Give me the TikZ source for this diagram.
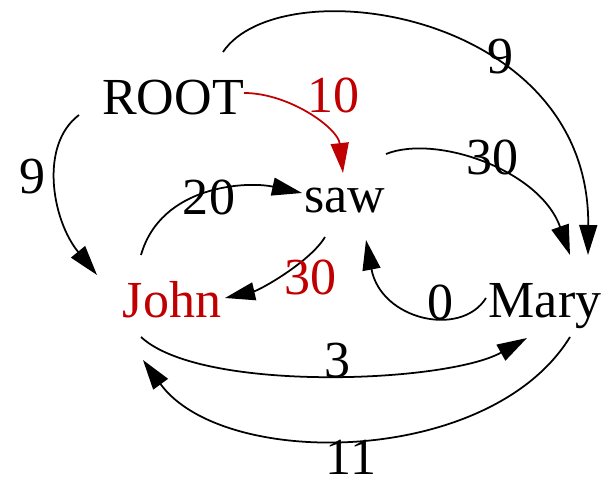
\documentclass[tikz,border=0pt]{standalone}
\usepackage{fontspec}
\setmainfont{Liberation Serif}
\usetikzlibrary{arrows.meta}
\definecolor{gvred}{RGB}{192,0,0}
\begin{document}
\begin{tikzpicture}[x=.02cm,y=.02cm,line width=1pt,font=\fontsize{29.6}{35}\selectfont,
  word/.style={inner sep=0,anchor=base},wt/.style={inner sep=0},
  edge/.style={-{Triangle[length=.6cm,width=.36cm]}}]
\useasboundingbox (0,0) rectangle (608,483);
\node[word] (root) at (173,368) {ROOT};\node[word] (saw) at (345,270) {saw};
\node[word,text=gvred] (john) at (172,165) {John};\node[word] (mary) at (545,165) {Mary};
\draw[edge] ([shift={(50,63)}]root.base) .. controls +(57,85) and +(2,245) .. ([shift={(43,63)}]mary.base);
\draw[edge,gvred] ([shift={(71,22)}]root.base) .. controls +(45,0) and +(-5,45) .. ([shift={(-2,40)}]saw.base);
\draw[edge] ([shift={(-94,0)}]root.base) .. controls +(-40,-30) and +(-45,55) .. ([shift={(-75,43)}]john.base);
\draw[edge] ([shift={(41,59)}]saw.base) .. controls +(50,20) and +(-30,85) .. ([shift={(25,63)}]mary.base);
\draw[edge] ([shift={(-31,63)}]john.base) .. controls +(20,70) and +(-55,12) .. ([shift={(-43,20)}]saw.base);
\draw[edge] ([shift={(-20,-24)}]saw.base) .. controls +(-15,-25) and +(35,8) .. ([shift={(53,20)}]john.base);
\draw[edge] ([shift={(-59,20)}]mary.base) .. controls +(-25,-40) and +(15,-80) .. ([shift={(21,-27)}]saw.base);
\draw[edge] ([shift={(-31,-19)}]john.base) .. controls +(60,-56) and +(-80,-45) .. ([shift={(-18,-20)}]mary.base);
\draw[edge] ([shift={(25,-19)}]mary.base) .. controls +(-80,-130) and +(80,-110) .. ([shift={(-29,-42)}]john.base);
\node[wt] (wrm) at (500,426) {9};\node[wt,text=gvred] (wrs) at (333,388) {10};
\node[wt] (wrj) at (33,306) {9};\node[wt] (wsm) at (492,326) {30};
\node[wt] (wjs) at (209,286) {20};\node[wt,text=gvred] (wsj) at (310,206) {30};
\node[wt] (wms) at (440,181) {0};\node[wt] (wjm) at (337,122) {3};
\node[wt] (wmj) at (351,26) {11};
\end{tikzpicture}
\end{document}
